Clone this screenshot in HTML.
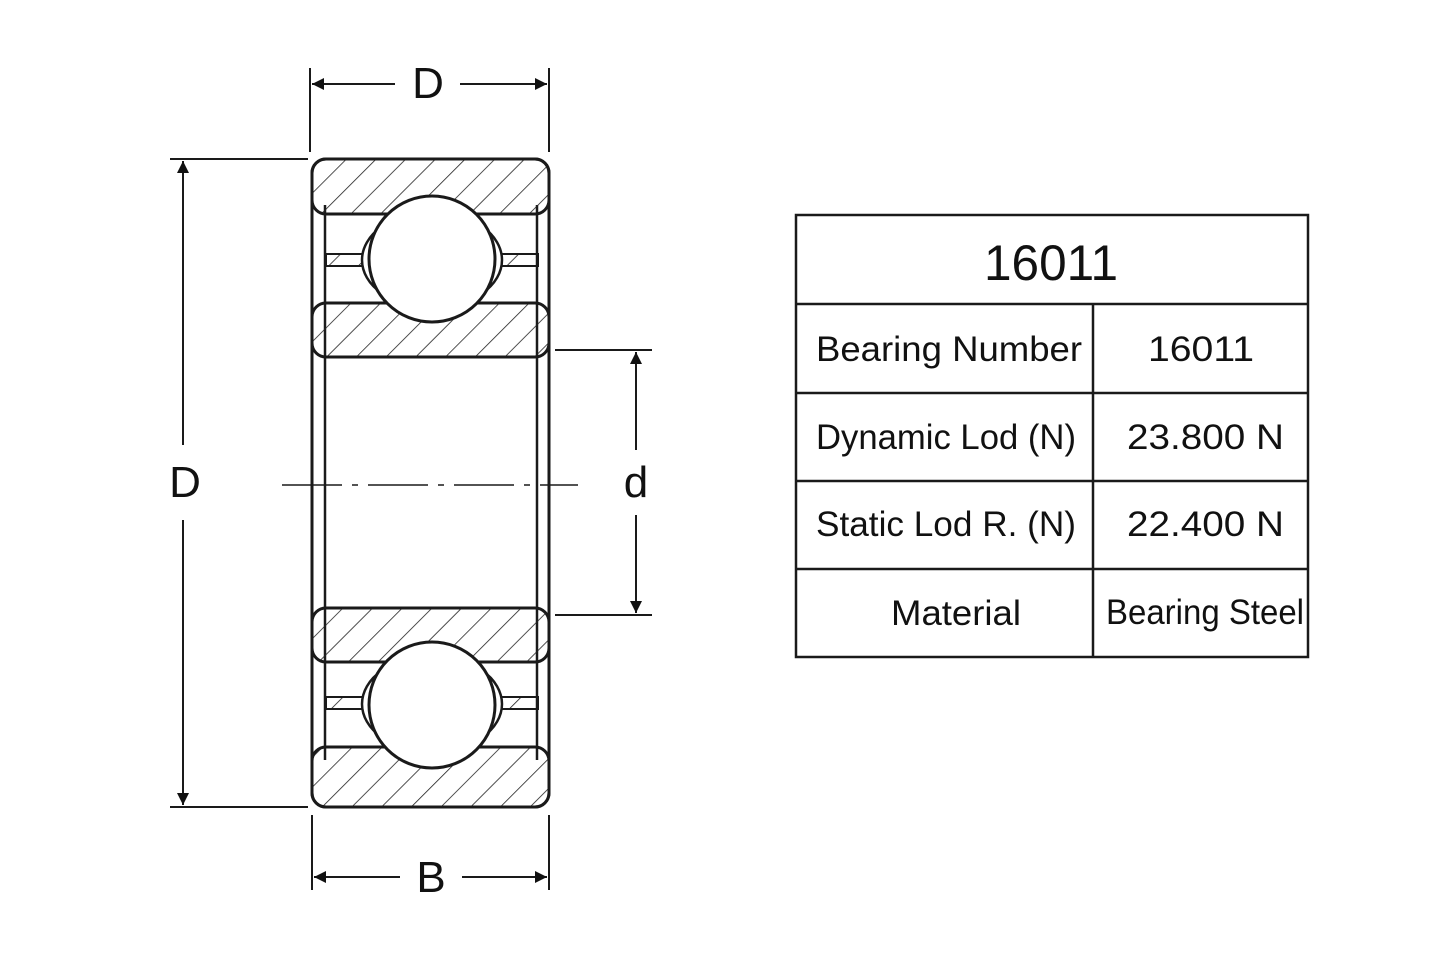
<!DOCTYPE html>
<html><head><meta charset="utf-8"><style>
html,body{margin:0;padding:0;background:#fff;}
svg{display:block;}
text{font-family:"Liberation Sans",sans-serif;fill:#111;}
</style></head><body>
<svg width="1445" height="963" viewBox="0 0 1445 963" xmlns="http://www.w3.org/2000/svg">
<defs>
<pattern id="h" patternUnits="userSpaceOnUse" width="21" height="21" patternTransform="rotate(45)">
<line x1="0" y1="0" x2="0" y2="21" stroke="#222" stroke-width="1.6"/>
</pattern>
<marker id="a" viewBox="0 0 10 10" refX="10" refY="5" markerWidth="20" markerHeight="12" markerUnits="userSpaceOnUse" orient="auto-start-reverse">
<path d="M0,0 L10,5 L0,10 z" fill="#111"/>
</marker>
</defs>
<g stroke="#1a1a1a" fill="none" stroke-width="2.5">
<rect x="312" y="159" width="237" height="648" rx="14" stroke-width="3"/>
<line x1="325" y1="205" x2="325" y2="760"/>
<line x1="537" y1="205" x2="537" y2="760"/>
<rect x="312" y="159" width="237" height="55" rx="14" fill="url(#h)" stroke-width="3"/>
<rect x="312" y="303" width="237" height="54" rx="14" fill="url(#h)" stroke-width="3"/>
<rect x="312" y="608" width="237" height="54" rx="14" fill="url(#h)" stroke-width="3"/>
<rect x="312" y="747" width="237" height="60" rx="14" fill="url(#h)" stroke-width="3"/>
<rect x="326" y="254" width="212" height="12" fill="url(#h)" stroke-width="2"/>
<rect x="326" y="697" width="212" height="12" fill="url(#h)" stroke-width="2"/>
<ellipse cx="432" cy="260" rx="70" ry="48" fill="#fff"/>
<ellipse cx="432" cy="704" rx="70" ry="48" fill="#fff"/>
<circle cx="432" cy="259" r="63" fill="#fff" stroke-width="3"/>
<circle cx="432" cy="705" r="63" fill="#fff" stroke-width="3"/>
<line x1="282" y1="485" x2="578" y2="485" stroke-width="1.5" stroke-dasharray="60,10,6,10"/>
<g stroke-width="2">
<line x1="310" y1="68" x2="310" y2="152"/><line x1="549" y1="68" x2="549" y2="152"/>
<line x1="312" y1="84" x2="395" y2="84" marker-start="url(#a)"/>
<line x1="460" y1="84" x2="547" y2="84" marker-end="url(#a)"/>
<line x1="170" y1="159" x2="308" y2="159"/><line x1="170" y1="807" x2="308" y2="807"/>
<line x1="183" y1="161" x2="183" y2="445" marker-start="url(#a)"/>
<line x1="183" y1="520" x2="183" y2="805" marker-end="url(#a)"/>
<line x1="555" y1="350" x2="652" y2="350"/><line x1="555" y1="615" x2="652" y2="615"/>
<line x1="636" y1="352" x2="636" y2="450" marker-start="url(#a)"/>
<line x1="636" y1="515" x2="636" y2="613" marker-end="url(#a)"/>
<line x1="312" y1="815" x2="312" y2="890"/><line x1="549" y1="815" x2="549" y2="890"/>
<line x1="314" y1="877" x2="400" y2="877" marker-start="url(#a)"/>
<line x1="462" y1="877" x2="547" y2="877" marker-end="url(#a)"/>
</g>
</g>
<text x="428" y="98" font-size="44" text-anchor="middle">D</text>
<text x="185" y="497" font-size="44" text-anchor="middle">D</text>
<text x="636" y="497" font-size="44" text-anchor="middle">d</text>
<text x="431" y="892" font-size="44" text-anchor="middle">B</text>
<g stroke="#1a1a1a" stroke-width="2.5" fill="none">
<rect x="796" y="215" width="512" height="442"/>
<line x1="796" y1="304" x2="1308" y2="304"/>
<line x1="796" y1="393" x2="1308" y2="393"/>
<line x1="796" y1="481" x2="1308" y2="481"/>
<line x1="796" y1="569" x2="1308" y2="569"/>
<line x1="1093" y1="304" x2="1093" y2="657"/>
</g>
<text x="984" y="280" font-size="50" textLength="134" lengthAdjust="spacingAndGlyphs">16011</text>
<g font-size="35">
<text x="816" y="361" textLength="266" lengthAdjust="spacingAndGlyphs">Bearing Number</text>
<text x="1148" y="361" textLength="106" lengthAdjust="spacingAndGlyphs">16011</text>
<text x="816" y="449" textLength="260" lengthAdjust="spacingAndGlyphs">Dynamic Lod (N)</text>
<text x="1127" y="449" textLength="157" lengthAdjust="spacingAndGlyphs">23.800 N</text>
<text x="816" y="536" textLength="260" lengthAdjust="spacingAndGlyphs">Static Lod R. (N)</text>
<text x="1127" y="536" textLength="157" lengthAdjust="spacingAndGlyphs">22.400 N</text>
<text x="891" y="625" textLength="130" lengthAdjust="spacingAndGlyphs">Material</text>
<text x="1106" y="624" textLength="198" lengthAdjust="spacingAndGlyphs">Bearing Steel</text>
</g>
</svg>
</body></html>
